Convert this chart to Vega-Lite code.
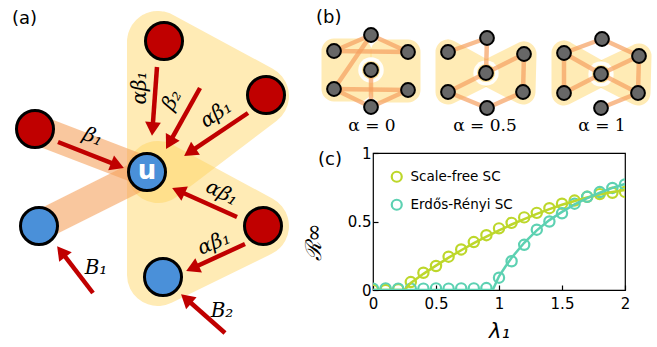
{
  "$schema": "https://vega.github.io/schema/vega-lite/v6.json",
  "width": 252,
  "height": 137,
  "autosize": {"type": "none"},
  "padding": {"left": 373, "top": 153, "right": 32, "bottom": 57},
  "background": "white",
  "config": {
    "view": {"stroke": "black", "strokeWidth": 1.2},
    "axis": {"grid": false, "domain": false, "labelFont": "DejaVu Sans", "labelFontSize": 15, "labelColor": "black", "tickColor": "black", "tickWidth": 1.2, "titleColor": "black", "titleFontWeight": "normal", "labelFlush": false, "labelOverlap": false}
  },
  "datasets": {
    "sim": [
      {"series": "Scale-free SC", "lambda": 0.0, "R": 0.0},
      {"series": "Scale-free SC", "lambda": 0.1, "R": 0.0},
      {"series": "Scale-free SC", "lambda": 0.2, "R": 0.005},
      {"series": "Scale-free SC", "lambda": 0.3, "R": 0.058},
      {"series": "Scale-free SC", "lambda": 0.4, "R": 0.126},
      {"series": "Scale-free SC", "lambda": 0.5, "R": 0.175},
      {"series": "Scale-free SC", "lambda": 0.6, "R": 0.243},
      {"series": "Scale-free SC", "lambda": 0.7, "R": 0.296},
      {"series": "Scale-free SC", "lambda": 0.8, "R": 0.35},
      {"series": "Scale-free SC", "lambda": 0.9, "R": 0.4},
      {"series": "Scale-free SC", "lambda": 1.0, "R": 0.45},
      {"series": "Scale-free SC", "lambda": 1.1, "R": 0.49},
      {"series": "Scale-free SC", "lambda": 1.2, "R": 0.53},
      {"series": "Scale-free SC", "lambda": 1.3, "R": 0.563},
      {"series": "Scale-free SC", "lambda": 1.4, "R": 0.597},
      {"series": "Scale-free SC", "lambda": 1.5, "R": 0.63},
      {"series": "Scale-free SC", "lambda": 1.6, "R": 0.653},
      {"series": "Scale-free SC", "lambda": 1.7, "R": 0.68},
      {"series": "Scale-free SC", "lambda": 1.8, "R": 0.7},
      {"series": "Scale-free SC", "lambda": 1.9, "R": 0.71},
      {"series": "Scale-free SC", "lambda": 2.0, "R": 0.716},
      {"series": "Erdős-Rényi SC", "lambda": 0.0, "R": 0.01},
      {"series": "Erdős-Rényi SC", "lambda": 0.1, "R": 0.012},
      {"series": "Erdős-Rényi SC", "lambda": 0.2, "R": 0.01},
      {"series": "Erdős-Rényi SC", "lambda": 0.3, "R": 0.01},
      {"series": "Erdős-Rényi SC", "lambda": 0.4, "R": 0.01},
      {"series": "Erdős-Rényi SC", "lambda": 0.5, "R": 0.012},
      {"series": "Erdős-Rényi SC", "lambda": 0.6, "R": 0.01},
      {"series": "Erdős-Rényi SC", "lambda": 0.7, "R": 0.012},
      {"series": "Erdős-Rényi SC", "lambda": 0.8, "R": 0.012},
      {"series": "Erdős-Rényi SC", "lambda": 0.9, "R": 0.014},
      {"series": "Erdős-Rényi SC", "lambda": 1.0, "R": 0.09},
      {"series": "Erdős-Rényi SC", "lambda": 1.1, "R": 0.21},
      {"series": "Erdős-Rényi SC", "lambda": 1.2, "R": 0.33},
      {"series": "Erdős-Rényi SC", "lambda": 1.3, "R": 0.44},
      {"series": "Erdős-Rényi SC", "lambda": 1.4, "R": 0.5},
      {"series": "Erdős-Rényi SC", "lambda": 1.5, "R": 0.56},
      {"series": "Erdős-Rényi SC", "lambda": 1.6, "R": 0.63},
      {"series": "Erdős-Rényi SC", "lambda": 1.7, "R": 0.68},
      {"series": "Erdős-Rényi SC", "lambda": 1.8, "R": 0.715},
      {"series": "Erdős-Rényi SC", "lambda": 1.9, "R": 0.745},
      {"series": "Erdős-Rényi SC", "lambda": 2.0, "R": 0.77}
    ],
    "theory": [
      {"series": "Scale-free SC", "lambda": 0.0, "R": 0.0},
      {"series": "Scale-free SC", "lambda": 0.25, "R": 0.0},
      {"series": "Scale-free SC", "lambda": 0.3, "R": 0.052},
      {"series": "Scale-free SC", "lambda": 0.4, "R": 0.118},
      {"series": "Scale-free SC", "lambda": 0.5, "R": 0.178},
      {"series": "Scale-free SC", "lambda": 0.6, "R": 0.236},
      {"series": "Scale-free SC", "lambda": 0.7, "R": 0.29},
      {"series": "Scale-free SC", "lambda": 0.8, "R": 0.342},
      {"series": "Scale-free SC", "lambda": 0.9, "R": 0.39},
      {"series": "Scale-free SC", "lambda": 1.0, "R": 0.435},
      {"series": "Scale-free SC", "lambda": 1.1, "R": 0.478},
      {"series": "Scale-free SC", "lambda": 1.2, "R": 0.518},
      {"series": "Scale-free SC", "lambda": 1.3, "R": 0.555},
      {"series": "Scale-free SC", "lambda": 1.4, "R": 0.59},
      {"series": "Scale-free SC", "lambda": 1.5, "R": 0.622},
      {"series": "Scale-free SC", "lambda": 1.6, "R": 0.65},
      {"series": "Scale-free SC", "lambda": 1.7, "R": 0.675},
      {"series": "Scale-free SC", "lambda": 1.8, "R": 0.697},
      {"series": "Scale-free SC", "lambda": 1.9, "R": 0.715},
      {"series": "Scale-free SC", "lambda": 2.0, "R": 0.73},
      {"series": "Erdős-Rényi SC", "lambda": 0.0, "R": 0.0},
      {"series": "Erdős-Rényi SC", "lambda": 0.95, "R": 0.0},
      {"series": "Erdős-Rényi SC", "lambda": 1.0, "R": 0.1},
      {"series": "Erdős-Rényi SC", "lambda": 1.05, "R": 0.17},
      {"series": "Erdős-Rényi SC", "lambda": 1.1, "R": 0.235},
      {"series": "Erdős-Rényi SC", "lambda": 1.2, "R": 0.345},
      {"series": "Erdős-Rényi SC", "lambda": 1.3, "R": 0.435},
      {"series": "Erdős-Rényi SC", "lambda": 1.4, "R": 0.51},
      {"series": "Erdős-Rényi SC", "lambda": 1.5, "R": 0.57},
      {"series": "Erdős-Rényi SC", "lambda": 1.6, "R": 0.625},
      {"series": "Erdős-Rényi SC", "lambda": 1.7, "R": 0.67},
      {"series": "Erdős-Rényi SC", "lambda": 1.8, "R": 0.71},
      {"series": "Erdős-Rényi SC", "lambda": 1.9, "R": 0.745},
      {"series": "Erdős-Rényi SC", "lambda": 2.0, "R": 0.775}
    ],
    "hyperA": [
      {"poly": "a1", "o": 1, "x": 158, "y": 42}, {"poly": "a1", "o": 2, "x": 258, "y": 96}, {"poly": "a1", "o": 3, "x": 158, "y": 172}, {"poly": "a1", "o": 4, "x": 158, "y": 42},
      {"poly": "a2", "o": 1, "x": 158, "y": 172}, {"poly": "a2", "o": 2, "x": 258, "y": 226}, {"poly": "a2", "o": 3, "x": 158, "y": 275}, {"poly": "a2", "o": 4, "x": 158, "y": 172}
    ],
    "hyperB": [
      {"poly": "b1", "o": 1, "x": 334, "y": 51}, {"poly": "b1", "o": 2, "x": 359, "y": 51}, {"poly": "b1", "o": 3, "x": 359, "y": 89}, {"poly": "b1", "o": 4, "x": 334, "y": 89}, {"poly": "b1", "o": 5, "x": 334, "y": 51},
      {"poly": "b2", "o": 1, "x": 383, "y": 52}, {"poly": "b2", "o": 2, "x": 408, "y": 52}, {"poly": "b2", "o": 3, "x": 408, "y": 90}, {"poly": "b2", "o": 4, "x": 383, "y": 90}, {"poly": "b2", "o": 5, "x": 383, "y": 52},
      {"poly": "b3", "o": 1, "x": 448, "y": 52}, {"poly": "b3", "o": 2, "x": 486, "y": 73}, {"poly": "b3", "o": 3, "x": 448, "y": 92}, {"poly": "b3", "o": 4, "x": 448, "y": 52},
      {"poly": "b4", "o": 1, "x": 524, "y": 54}, {"poly": "b4", "o": 2, "x": 486, "y": 73}, {"poly": "b4", "o": 3, "x": 523, "y": 92}, {"poly": "b4", "o": 4, "x": 524, "y": 54},
      {"poly": "b5", "o": 1, "x": 564, "y": 53}, {"poly": "b5", "o": 2, "x": 601, "y": 74}, {"poly": "b5", "o": 3, "x": 564, "y": 93}, {"poly": "b5", "o": 4, "x": 564, "y": 53},
      {"poly": "b6", "o": 1, "x": 639, "y": 56}, {"poly": "b6", "o": 2, "x": 601, "y": 74}, {"poly": "b6", "o": 3, "x": 638, "y": 93}, {"poly": "b6", "o": 4, "x": 639, "y": 56}
    ],
    "linksA": [
      {"x": 35, "y": 129, "x2": 147, "y2": 172},
      {"x": 39, "y": 226, "x2": 147, "y2": 172}
    ],
    "nodesA": [
      {"state": "I", "x": 164, "y": 41},
      {"state": "I", "x": 266, "y": 95},
      {"state": "I", "x": 35, "y": 129},
      {"state": "I", "x": 263, "y": 226},
      {"state": "S", "x": 147, "y": 172},
      {"state": "S", "x": 39, "y": 226},
      {"state": "S", "x": 163, "y": 277}
    ],
    "arrows": [
      {"x": 157, "y": 67, "x2": 152.5, "y2": 129},
      {"x": 200, "y": 88, "x2": 169.4, "y2": 142.9},
      {"x": 248, "y": 113, "x2": 189.8, "y2": 152.1},
      {"x": 58, "y": 142, "x2": 117.5, "y2": 165.4},
      {"x": 237, "y": 217, "x2": 178.4, "y2": 190.8},
      {"x": 245, "y": 244, "x2": 192.4, "y2": 268.2},
      {"x": 93, "y": 293, "x2": 61.3, "y2": 251.6},
      {"x": 225, "y": 333, "x2": 186.2, "y2": 298.7}
    ],
    "ratesA": [
      {"t": "αβ₁", "x": 140, "y": 88, "r": -90},
      {"t": "β₂", "x": 172, "y": 100, "r": -61},
      {"t": "αβ₁", "x": 216, "y": 114, "r": -34},
      {"t": "β₁", "x": 93, "y": 137, "r": 21},
      {"t": "αβ₁", "x": 222, "y": 193, "r": 27},
      {"t": "αβ₁", "x": 214, "y": 243, "r": -23},
      {"t": "B₁", "x": 96, "y": 268, "r": 0},
      {"t": "B₂", "x": 222, "y": 311, "r": 0}
    ],
    "centersB": [
      {"x": 371, "y": 70}, {"x": 486, "y": 73}, {"x": 601, "y": 74}
    ],
    "edgesB": [
      {"x": 334, "y": 51, "x2": 371, "y2": 35}, {"x": 371, "y": 35, "x2": 408, "y2": 52}, {"x": 334, "y": 51, "x2": 408, "y2": 52}, {"x": 371, "y": 35, "x2": 334, "y2": 89},
      {"x": 334, "y": 89, "x2": 408, "y2": 90}, {"x": 334, "y": 89, "x2": 371, "y2": 107}, {"x": 371, "y": 107, "x2": 408, "y2": 90}, {"x": 371, "y": 70, "x2": 371, "y2": 107},
      {"x": 448, "y": 52, "x2": 487, "y2": 38}, {"x": 487, "y": 38, "x2": 486, "y2": 73}, {"x": 486, "y": 73, "x2": 524, "y2": 54}, {"x": 524, "y": 54, "x2": 523, "y2": 92},
      {"x": 448, "y": 92, "x2": 486, "y2": 73}, {"x": 448, "y": 92, "x2": 487, "y2": 108}, {"x": 487, "y": 108, "x2": 523, "y2": 92},
      {"x": 564, "y": 53, "x2": 602, "y2": 39}, {"x": 602, "y": 39, "x2": 639, "y2": 56}, {"x": 564, "y": 53, "x2": 601, "y2": 74}, {"x": 601, "y": 74, "x2": 638, "y2": 93},
      {"x": 564, "y": 93, "x2": 601, "y2": 74}, {"x": 601, "y": 74, "x2": 639, "y2": 56}, {"x": 564, "y": 53, "x2": 564, "y2": 93}, {"x": 639, "y": 56, "x2": 638, "y2": 93},
      {"x": 601, "y": 108, "x2": 638, "y2": 93}
    ],
    "nodesB": [
      {"x": 371, "y": 35}, {"x": 334, "y": 51}, {"x": 408, "y": 52}, {"x": 371, "y": 70}, {"x": 334, "y": 89}, {"x": 408, "y": 90}, {"x": 371, "y": 107},
      {"x": 487, "y": 38}, {"x": 448, "y": 52}, {"x": 524, "y": 54}, {"x": 486, "y": 73}, {"x": 448, "y": 92}, {"x": 523, "y": 92}, {"x": 487, "y": 108},
      {"x": 602, "y": 39}, {"x": 564, "y": 53}, {"x": 639, "y": 56}, {"x": 601, "y": 74}, {"x": 564, "y": 93}, {"x": 638, "y": 93}, {"x": 601, "y": 108}
    ],
    "alphaLabels": [
      {"t": "α = 0", "x": 372, "y": 131},
      {"t": "α = 0.5", "x": 485, "y": 131},
      {"t": "α = 1", "x": 602, "y": 131}
    ],
    "panelLabels": [
      {"t": "(a)", "x": 12, "y": 24},
      {"t": "(b)", "x": 316, "y": 23},
      {"t": "(c)", "x": 318, "y": 165}
    ],
    "yTitle": [
      {"t": "ℛ∞", "x": 314, "y": 242}
    ]
  },
  "layer": [
    {
      "layer": [
        {
          "data": {"name": "sim"},
          "mark": {"type": "point", "filled": false, "size": 105, "strokeWidth": 2.2, "opacity": 1, "clip": true},
          "encoding": {
            "x": {"field": "lambda", "type": "quantitative", "scale": {"domain": [0, 2], "nice": false, "zero": false},
              "axis": {"values": [0, 0.5, 1, 1.5, 2], "format": "~g", "tickSize": -5, "labelPadding": 11, "title": "λ₁", "titleFont": "DejaVu Sans", "titleFontStyle": "italic", "titleFontSize": 21, "titlePadding": 9}},
            "y": {"field": "R", "type": "quantitative", "scale": {"domain": [0, 1], "nice": false, "zero": false},
              "axis": {"values": [0, 0.5, 1], "format": "~g", "tickSize": -5, "labelPadding": 7, "title": null}},
            "color": {"field": "series", "type": "nominal", "scale": {"domain": ["Scale-free SC", "Erdős-Rényi SC"], "range": ["#BDD72B", "#5DD1B2"]},
              "legend": {"title": null, "orient": "none", "legendX": 17, "legendY": 17, "symbolType": "circle", "symbolSize": 100, "symbolStrokeWidth": 2.2, "labelFont": "DejaVu Sans", "labelFontSize": 13.5, "labelColor": "black", "rowPadding": 8, "labelOffset": 7}}
          }
        },
        {
          "data": {"name": "theory"},
          "mark": {"type": "line", "strokeWidth": 2.5, "clip": true},
          "encoding": {
            "x": {"field": "lambda", "type": "quantitative"},
            "y": {"field": "R", "type": "quantitative", "axis": {"title": null}},
            "color": {"field": "series", "type": "nominal", "legend": null}
          }
        }
      ]
    },
    {
      "layer": [
        {
          "data": {"name": "hyperA"},
          "mark": {"type": "line", "fill": "#FFD35C", "stroke": "#FFD35C", "strokeWidth": 62, "strokeJoin": "round", "strokeCap": "round", "opacity": 0.45},
          "encoding": {
            "x": {"field": "x", "type": "quantitative", "scale": {"domain": [373, 625], "nice": false, "zero": false}, "axis": null},
            "y": {"field": "y", "type": "quantitative", "scale": {"domain": [153, 290], "nice": false, "zero": false, "reverse": true}, "axis": null},
            "detail": {"field": "poly"},
            "order": {"field": "o"}
          }
        },
        {
          "data": {"name": "linksA"},
          "mark": {"type": "rule", "color": "#F5A25D", "strokeWidth": 30, "opacity": 0.6},
          "encoding": {
            "x": {"field": "x", "type": "quantitative"}, "y": {"field": "y", "type": "quantitative"},
            "x2": {"field": "x2"}, "y2": {"field": "y2"}
          }
        },
        {
          "data": {"name": "hyperB"},
          "mark": {"type": "line", "fill": "#FFD35C", "stroke": "#FFD35C", "strokeWidth": 25, "strokeJoin": "round", "strokeCap": "round", "opacity": 0.45},
          "encoding": {
            "x": {"field": "x", "type": "quantitative"}, "y": {"field": "y", "type": "quantitative"},
            "detail": {"field": "poly"},
            "order": {"field": "o"}
          }
        },
        {
          "data": {"name": "centersB"},
          "mark": {"type": "point", "shape": "circle", "filled": true, "color": "white", "size": 650, "opacity": 0.95},
          "encoding": {"x": {"field": "x", "type": "quantitative"}, "y": {"field": "y", "type": "quantitative"}}
        },
        {
          "data": {"name": "centersB"},
          "mark": {"type": "point", "shape": "circle", "filled": true, "color": "#FFCB45", "size": 330, "opacity": 0.55},
          "encoding": {"x": {"field": "x", "type": "quantitative"}, "y": {"field": "y", "type": "quantitative"}}
        },
        {
          "data": {"name": "edgesB"},
          "mark": {"type": "rule", "color": "#F5A060", "strokeWidth": 4.5, "opacity": 0.7},
          "encoding": {
            "x": {"field": "x", "type": "quantitative"}, "y": {"field": "y", "type": "quantitative"},
            "x2": {"field": "x2"}, "y2": {"field": "y2"}
          }
        },
        {
          "data": {"name": "nodesB"},
          "mark": {"type": "point", "shape": "circle", "filled": true, "fill": "#676767", "stroke": "black", "strokeWidth": 2, "size": 190, "opacity": 1},
          "encoding": {"x": {"field": "x", "type": "quantitative"}, "y": {"field": "y", "type": "quantitative"}}
        },
        {
          "data": {"name": "nodesA"},
          "transform": [{"filter": "datum.state === 'I'"}],
          "mark": {"type": "point", "shape": "circle", "filled": true, "fill": "#C00000", "stroke": "black", "strokeWidth": 3, "size": 1370, "opacity": 1},
          "encoding": {"x": {"field": "x", "type": "quantitative"}, "y": {"field": "y", "type": "quantitative"}}
        },
        {
          "data": {"name": "nodesA"},
          "transform": [{"filter": "datum.state === 'S'"}],
          "mark": {"type": "point", "shape": "circle", "filled": true, "fill": "#4A90D9", "stroke": "black", "strokeWidth": 3, "size": 1370, "opacity": 1},
          "encoding": {"x": {"field": "x", "type": "quantitative"}, "y": {"field": "y", "type": "quantitative"}}
        },
        {
          "data": {"name": "arrows"},
          "mark": {"type": "rule", "color": "#C00000", "strokeWidth": 4.5},
          "encoding": {
            "x": {"field": "x", "type": "quantitative"}, "y": {"field": "y", "type": "quantitative"},
            "x2": {"field": "x2"}, "y2": {"field": "y2"}
          }
        },
        {
          "data": {"name": "arrows"},
          "transform": [{"calculate": "atan2(datum.x2 - datum.x, datum.y - datum.y2) * 180 / PI", "as": "ang"}],
          "mark": {"type": "point", "shape": "triangle-up", "filled": true, "color": "#C00000", "size": 250, "opacity": 1},
          "encoding": {
            "x": {"field": "x2", "type": "quantitative"}, "y": {"field": "y2", "type": "quantitative"},
            "angle": {"field": "ang", "type": "quantitative", "scale": null}
          }
        },
        {
          "data": {"name": "ratesA"},
          "mark": {"type": "text", "font": "DejaVu Serif", "fontStyle": "italic", "fontSize": 20, "align": "center", "baseline": "middle", "color": "black"},
          "encoding": {
            "x": {"field": "x", "type": "quantitative"}, "y": {"field": "y", "type": "quantitative"},
            "text": {"field": "t"},
            "angle": {"field": "r", "type": "quantitative", "scale": null}
          }
        },
        {
          "data": {"values": [{"t": "u", "x": 147, "y": 172}]},
          "mark": {"type": "text", "font": "DejaVu Sans", "fontWeight": "bold", "fontSize": 26, "align": "center", "baseline": "middle", "dy": -1, "color": "white"},
          "encoding": {"x": {"field": "x", "type": "quantitative"}, "y": {"field": "y", "type": "quantitative"}, "text": {"field": "t"}}
        },
        {
          "data": {"name": "alphaLabels"},
          "mark": {"type": "text", "font": "DejaVu Serif", "fontSize": 17, "align": "center", "baseline": "alphabetic", "color": "black"},
          "encoding": {"x": {"field": "x", "type": "quantitative"}, "y": {"field": "y", "type": "quantitative"}, "text": {"field": "t"}}
        },
        {
          "data": {"name": "panelLabels"},
          "mark": {"type": "text", "font": "DejaVu Sans", "fontSize": 18, "align": "left", "baseline": "alphabetic", "color": "black"},
          "encoding": {"x": {"field": "x", "type": "quantitative"}, "y": {"field": "y", "type": "quantitative"}, "text": {"field": "t"}}
        },
        {
          "data": {"name": "yTitle"},
          "mark": {"type": "text", "font": "DejaVu Serif", "fontStyle": "italic", "fontSize": 22, "align": "center", "baseline": "middle", "angle": 270, "color": "black"},
          "encoding": {"x": {"field": "x", "type": "quantitative"}, "y": {"field": "y", "type": "quantitative"}, "text": {"field": "t"}}
        }
      ]
    }
  ],
  "resolve": {"scale": {"x": "independent", "y": "independent", "color": "independent"}}
}
